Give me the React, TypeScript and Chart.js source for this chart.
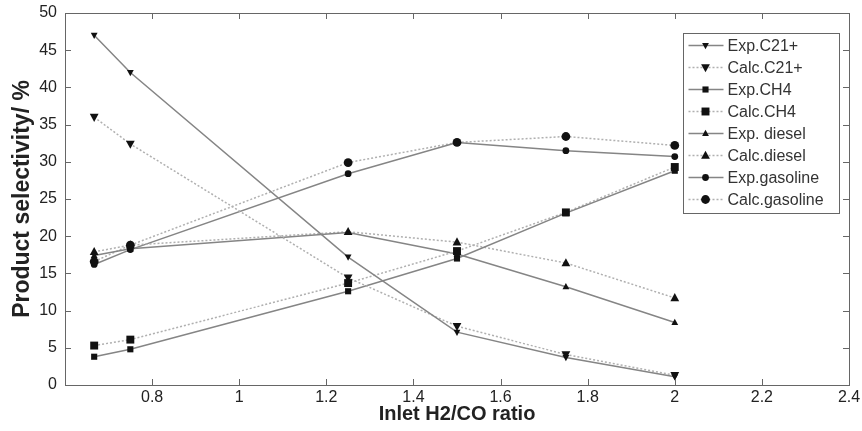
import React, { useEffect, useRef } from "react";
import { Chart, registerables } from "chart.js";

Chart.register(...registerables);

// ---- data ----
const ratios = [0.667, 0.75, 1.25, 1.5, 1.75, 2];
const expC21 = [47, 42, 17.2, 7.1, 3.7, 1.1];
const calcC21 = [36, 32.4, 14.4, 7.9, 4.1, 1.3];
const expCH4 = [3.8, 4.8, 12.6, 17.0, 23.1, 28.8];
const calcCH4 = [5.3, 6.1, 13.7, 18.0, 23.2, 29.3];
const expDiesel = [17.4, 18.3, 20.5, 17.6, 13.2, 8.4];
const calcDiesel = [17.9, 18.8, 20.6, 19.2, 16.4, 11.7];
const expGasoline = [16.2, 18.2, 28.4, 32.6, 31.5, 30.7];
const calcGasoline = [16.6, 18.8, 29.9, 32.6, 33.4, 32.2];
const seriesLabels = [
  "Exp.C21+",
  "Calc.C21+",
  "Exp.CH4",
  "Calc.CH4",
  "Exp. diesel",
  "Calc.diesel",
  "Exp.gasoline",
  "Calc.gasoline",
];
const xTicks = [0.8, 1, 1.2, 1.4, 1.6, 1.8, 2, 2.2, 2.4];
const yTicks = [0, 5, 10, 15, 20, 25, 30, 35, 40, 45, 50];
const xTitle = "Inlet H2/CO ratio";
const yTitle = "Product selectivity/ %";

const seriesValues = [expC21, calcC21, expCH4, calcCH4, expDiesel, calcDiesel, expGasoline, calcGasoline];
const markers = ["down", "down", "rect", "rect", "up", "up", "circle", "circle"];

const FONT = "'Liberation Sans', Arial, sans-serif";

function drawMarker(ctx: CanvasRenderingContext2D, kind: string, x: number, y: number, r: number) {
  ctx.beginPath();
  if (kind === "circle") {
    ctx.arc(x, y, r, 0, Math.PI * 2);
  } else if (kind === "rect") {
    ctx.rect(x - r * 0.9, y - r * 0.9, r * 1.8, r * 1.8);
  } else if (kind === "up") {
    ctx.moveTo(x, y - r * 1.1);
    ctx.lineTo(x + r, y + r * 0.75);
    ctx.lineTo(x - r, y + r * 0.75);
    ctx.closePath();
  } else {
    ctx.moveTo(x, y + r * 1.1);
    ctx.lineTo(x + r, y - r * 0.75);
    ctx.lineTo(x - r, y - r * 0.75);
    ctx.closePath();
  }
  ctx.fill();
}

const markerPlugin = {
  id: "customMarkers",
  afterDatasetsDraw(chart: any) {
    const ctx = chart.ctx as CanvasRenderingContext2D;
    ctx.save();
    ctx.fillStyle = "#111";
    chart.data.datasets.forEach((ds: any, i: number) => {
      const meta = chart.getDatasetMeta(i);
      const r = i % 2 === 0 ? 3.4 : 4.4;
      meta.data.forEach((pt: any) => drawMarker(ctx, markers[i], pt.x, pt.y, r));
    });
    ctx.restore();
  },
};

const framePlugin = {
  id: "frameTicks",
  afterDraw(chart: any) {
    const ctx = chart.ctx as CanvasRenderingContext2D;
    const a = chart.chartArea;
    const sx = chart.scales.x;
    const sy = chart.scales.y;
    ctx.save();
    ctx.strokeStyle = "#666";
    ctx.lineWidth = 1;
    ctx.strokeRect(Math.round(a.left) + 0.5, Math.round(a.top) + 0.5, Math.round(a.right - a.left), Math.round(a.bottom - a.top));
    const tl = 6;
    ctx.beginPath();
    xTicks.forEach((v) => {
      const px = Math.round(sx.getPixelForValue(v)) + 0.5;
      ctx.moveTo(px, a.bottom);
      ctx.lineTo(px, a.bottom - tl);
      ctx.moveTo(px, a.top);
      ctx.lineTo(px, a.top + tl);
    });
    yTicks.forEach((v) => {
      const py = Math.round(sy.getPixelForValue(v)) + 0.5;
      ctx.moveTo(a.left, py);
      ctx.lineTo(a.left + tl, py);
      ctx.moveTo(a.right, py);
      ctx.lineTo(a.right - tl, py);
    });
    ctx.stroke();

    // legend
    const lx = Math.round(a.right - 166) + 0.5;
    const ly = Math.round(a.top + 20) + 0.5;
    const lw = 156;
    const lh = 180;
    ctx.fillStyle = "#fff";
    ctx.fillRect(lx, ly, lw, lh);
    ctx.strokeStyle = "#666";
    ctx.strokeRect(lx, ly, lw, lh);
    ctx.font = `16px ${FONT}`;
    ctx.textBaseline = "middle";
    chart.data.datasets.forEach((ds: any, i: number) => {
      const yy = ly + 12 + i * 22;
      ctx.save();
      ctx.strokeStyle = ds.borderColor;
      ctx.lineWidth = ds.borderWidth;
      ctx.setLineDash(ds.borderDash || []);
      ctx.beginPath();
      ctx.moveTo(lx + 5, yy);
      ctx.lineTo(lx + 40, yy);
      ctx.stroke();
      ctx.restore();
      ctx.fillStyle = "#111";
      drawMarker(ctx, markers[i], lx + 22, yy, i % 2 === 0 ? 3.4 : 4.4);
      ctx.fillStyle = "#333";
      ctx.fillText(seriesLabels[i], lx + 44, yy + 1);
    });
    ctx.restore();
  },
};

export default function App() {
  const ref = useRef<HTMLCanvasElement | null>(null);

  useEffect(() => {
    if (!ref.current) return;
    const datasets = seriesValues.map((vals, i) => {
      const exp = i % 2 === 0;
      return {
        label: seriesLabels[i],
        data: ratios.map((x, k) => ({ x, y: vals[k] })),
        borderColor: exp ? "#858585" : "#b0b0b0",
        borderWidth: 1.5,
        borderDash: exp ? [] : [2, 2],
        pointRadius: 0,
        pointHoverRadius: 0,
        fill: false,
        tension: 0,
      };
    });
    const chart = new Chart(ref.current, {
      type: "line",
      data: { datasets },
      options: {
        animation: false,
        responsive: false,
        events: [],
        layout: { padding: { left: 0, right: 13, top: 13, bottom: 5 } },
        plugins: { legend: { display: false }, tooltip: { enabled: false } },
        scales: {
          x: {
            type: "linear",
            min: 0.6,
            max: 2.4,
            grid: { display: false, drawTicks: false },
            border: { display: false },
            afterBuildTicks: (s: any) => {
              s.ticks = xTicks.map((v) => ({ value: v }));
            },
            afterFit: (s: any) => {
              s.height = 41;
              s.paddingLeft = 0;
              s.paddingRight = 0;
            },
            ticks: {
              autoSkip: false,
              maxRotation: 0,
              padding: 3,
              color: "#222",
              font: { family: FONT, size: 16 },
              callback: (v: any) => String(Number(Number(v).toFixed(1))),
            },
            title: {
              display: true,
              text: xTitle,
              color: "#222",
              padding: { top: 0, bottom: 0 },
              font: { family: FONT, size: 20, weight: "bold" },
            },
          },
          y: {
            type: "linear",
            min: 0,
            max: 50,
            grid: { display: false, drawTicks: false },
            border: { display: false },
            afterBuildTicks: (s: any) => {
              s.ticks = yTicks.map((v) => ({ value: v }));
            },
            afterFit: (s: any) => {
              s.width = 65;
              s.paddingTop = 0;
              s.paddingBottom = 0;
            },
            ticks: {
              autoSkip: false,
              padding: 8,
              color: "#222",
              font: { family: FONT, size: 16 },
            },
            title: {
              display: true,
              text: yTitle,
              color: "#222",
              padding: { top: 9, bottom: 0 },
              font: { family: FONT, size: 23, weight: "bold" },
            },
          },
        },
      },
      plugins: [markerPlugin, framePlugin],
    } as any);
    return () => chart.destroy();
  }, []);

  return (
    <div style={{ position: "absolute", left: 0, top: 0, width: 862, height: 431, background: "#fff" }}>
      <canvas ref={ref} width={862} height={431} style={{ width: 862, height: 431, display: "block" }} />
    </div>
  );
}
